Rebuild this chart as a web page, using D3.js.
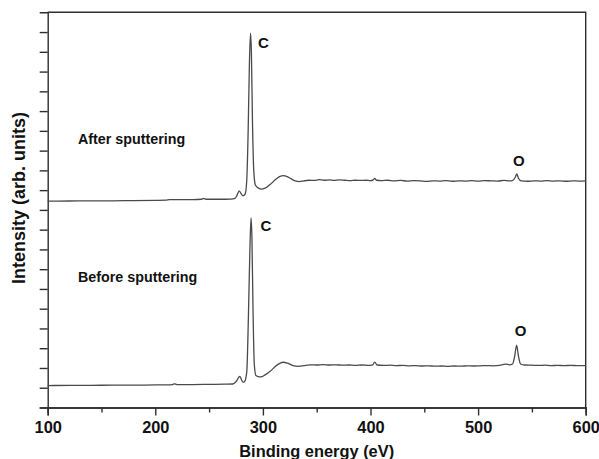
<!DOCTYPE html>
<html>
<head>
<meta charset="utf-8">
<script src="https://cdn.jsdelivr.net/npm/d3@7"></script>
<style>
   body { margin: 0; background: #fff; }
   text { font-family: "Liberation Sans", Arial, sans-serif; font-weight: bold; fill: #111; }
</style>
</head>
<body>
<div class="chart"></div>
<script>
// ======================================
// Data: [binding energy (eV), intensity (arb.)]
// ======================================
var afterSputtering = [
   [100, 10.44], [120, 10.45], [140, 10.46], [160, 10.46], [180, 10.47], [200, 10.48],
   [210, 10.49], [213, 10.52], [220, 10.52], [235, 10.52], [243, 10.54], [245, 10.58],
   [247, 10.54], [260, 10.54], [270, 10.55], [274, 10.58], [276, 10.75], [278, 10.96],
   [279.5, 10.85], [281.5, 10.71], [283.5, 10.8], [285, 11.5], [286.3, 14.0], [287.5, 17.5],
   [288.5, 18.94], [289.3, 18.0], [290.3, 14.5], [291.5, 12.0], [293, 11.26], [296, 11.1],
   [298.5, 11.05], [302, 11.1], [307, 11.3], [312, 11.55], [316, 11.7], [319, 11.73],
   [322, 11.7], [326, 11.58], [330, 11.47], [334, 11.43], [338, 11.47], [343, 11.5],
   [348, 11.49], [352, 11.53], [357, 11.5], [362, 11.52], [366, 11.49], [371, 11.52],
   [376, 11.5], [381, 11.48], [386, 11.5], [391, 11.49], [396, 11.5], [400, 11.48],
   [402.5, 11.52], [404, 11.6], [405.5, 11.5], [410, 11.48], [416, 11.5], [422, 11.47],
   [428, 11.49], [434, 11.46], [440, 11.48], [446, 11.47], [452, 11.44], [458, 11.47],
   [464, 11.46], [470, 11.48], [476, 11.45], [482, 11.47], [488, 11.46], [494, 11.48],
   [500, 11.46], [506, 11.48], [512, 11.47], [518, 11.46], [524, 11.49], [529, 11.47],
   [532, 11.48], [534.5, 11.65], [536, 11.82], [537.5, 11.6], [540, 11.47], [546, 11.45],
   [552, 11.47], [558, 11.46], [564, 11.48], [570, 11.46], [576, 11.47], [582, 11.45],
   [588, 11.47], [594, 11.46], [600, 11.47]
];

var beforeSputtering = [
   [100, 1.11], [120, 1.12], [140, 1.12], [160, 1.13], [180, 1.13], [200, 1.14],
   [212, 1.14], [216, 1.16], [218, 1.2], [220, 1.16], [235, 1.16], [250, 1.17],
   [265, 1.18], [272, 1.19], [275, 1.3], [278.5, 1.58], [280, 1.42], [281.5, 1.28],
   [283, 1.32], [285, 1.8], [286.5, 4.5], [288, 8.2], [289, 9.6], [289.8, 8.6],
   [290.8, 5.0], [292, 2.2], [293.5, 1.62], [296, 1.56], [298, 1.55], [302, 1.65],
   [307, 1.85], [312, 2.1], [316, 2.25], [319, 2.29], [323, 2.24], [328, 2.12],
   [333, 2.08], [338, 2.12], [344, 2.16], [350, 2.15], [356, 2.17], [362, 2.15],
   [368, 2.16], [374, 2.14], [380, 2.15], [386, 2.13], [392, 2.15], [398, 2.13],
   [402, 2.16], [404, 2.3], [406, 2.15], [412, 2.13], [418, 2.14], [424, 2.12],
   [430, 2.13], [436, 2.11], [442, 2.12], [448, 2.1], [454, 2.11], [460, 2.09],
   [466, 2.1], [472, 2.08], [478, 2.1], [484, 2.09], [490, 2.11], [496, 2.1],
   [502, 2.11], [508, 2.12], [514, 2.11], [520, 2.13], [523, 2.17], [526, 2.2],
   [529, 2.16], [532, 2.2], [534, 2.6], [535.8, 3.15], [537.5, 2.6], [539.5, 2.2],
   [543, 2.15], [550, 2.14], [556, 2.13], [562, 2.14], [568, 2.12], [574, 2.13],
   [580, 2.12], [586, 2.13], [592, 2.12], [600, 2.12]
];

// peak labels: [text, energy at left edge of letter, intensity at baseline]
var peakLabels = [
   ['C', 295.5, 18.17],
   ['C', 297.7, 8.95],
   ['O', 532.5, 12.23],
   ['O', 534, 3.6]
];

// spectrum names: [text, intensity at baseline]
var spectrumNames = [
   ['After sputtering', 13.35],
   ['Before sputtering', 6.33]
];

var xMajorTicks = [100, 200, 300, 400, 500, 600];
var xMinorTicks = [150, 250, 350, 450, 550];
var yTicks = [0, 1, 2, 3, 4, 5, 6, 7, 8, 9, 10, 11, 12, 13, 14, 15, 16, 17, 18, 19];

// ======================================
// Svg dimensions and plot box
// ======================================
var chart = {
   width: 599,
   height: 459,
   left: 47.7,
   right: 585.7,
   top: 12.3,
   bottom: 407.5
};

var svg = d3.select('.chart')
   .append('svg')
   .attr('width', chart.width)
   .attr('height', chart.height)
   ;

var x = d3.scaleLinear().domain([100, 600]).range([chart.left, chart.right]);
var y = d3.scaleLinear().domain([0, 20]).range([chart.bottom, chart.top]);

// ======================================
// axes
// ======================================
var axisColor = '#2e2e2e';

var xAxis = svg.append('g')
   .attr('transform', 'translate(0,' + chart.bottom + ')')
   .call(d3.axisBottom(x).tickValues(xMajorTicks).tickSize(8).tickPadding(6).tickFormat(d3.format('d')))
   ;
xAxis.selectAll('text')
   .attr('font-size', '16.4px')
   .attr('fill', '#111')
   .style('font-family', '"Liberation Sans", Arial, sans-serif')
   ;

var xMinor = svg.append('g')
   .attr('transform', 'translate(0,' + chart.bottom + ')')
   .call(d3.axisBottom(x).tickValues(xMinorTicks).tickSize(5).tickFormat(''))
   ;

var yAxis = svg.append('g')
   .attr('transform', 'translate(' + chart.left + ',0)')
   .call(d3.axisLeft(y).tickValues(yTicks).tickSize(8).tickFormat(''))
   ;

svg.selectAll('.domain, .tick line')
   .attr('stroke', axisColor)
   .attr('stroke-width', 1.4)
   ;

// frame top + right
svg.append('path')
   .attr('d', 'M' + chart.left + ',' + chart.top + 'H' + chart.right + 'V' + chart.bottom)
   .attr('fill', 'none')
   .attr('stroke', axisColor)
   .attr('stroke-width', 1.4)
   ;

// ======================================
// spectra
// ======================================
var line = d3.line()
   .x(function(d){ return x(d[0]); })
   .y(function(d){ return y(d[1]); })
   .curve(d3.curveMonotoneX)
   ;

svg.selectAll('path.spectrum')
   .data([afterSputtering, beforeSputtering])
   .enter()
   .append('path')
      .attr('class', 'spectrum')
      .attr('d', line)
      .attr('fill', 'none')
      .attr('stroke', '#4a4a4a')
      .attr('stroke-width', 1.3)
      ;

// ======================================
// labels
// ======================================
svg.selectAll('text.peak')
   .data(peakLabels)
   .enter()
   .append('text')
      .attr('class', 'peak')
      .text(function(d){ return d[0]; })
      .attr('x', function(d){ return x(d[1]); })
      .attr('y', function(d){ return y(d[2]); })
      .attr('font-size', '15px')
      ;

svg.selectAll('text.name')
   .data(spectrumNames)
   .enter()
   .append('text')
      .attr('class', 'name')
      .text(function(d){ return d[0]; })
      .attr('x', 78)
      .attr('y', function(d){ return y(d[1]); })
      .attr('font-size', '14.3px')
      ;

svg.append('text')
   .text('Binding energy (eV)')
   .attr('x', (chart.left + chart.right) / 2)
   .attr('y', 456.5)
   .attr('text-anchor', 'middle')
   .attr('font-size', '16.4px')
   ;

svg.append('text')
   .text('Intensity (arb. units)')
   .attr('transform', 'translate(25,' + 198 + ') rotate(-90)')
   .attr('text-anchor', 'middle')
   .attr('font-size', '18px')
   ;
</script>
</body>
</html>
